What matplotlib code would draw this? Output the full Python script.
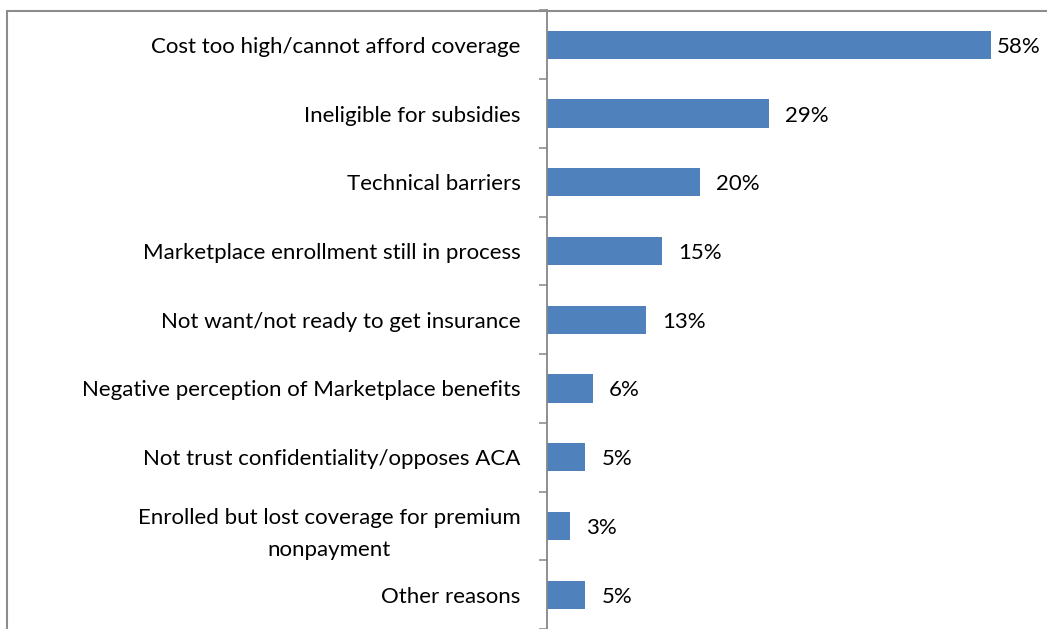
import matplotlib.pyplot as plt
from matplotlib.patches import Rectangle

# Reasons for remaining uninsured (share of respondents)
reasons = [
    "Cost too high/cannot afford coverage",
    "Ineligible for subsidies",
    "Technical barriers",
    "Marketplace enrollment still in process",
    "Not want/not ready to get insurance",
    "Negative perception of Marketplace benefits",
    "Not trust confidentiality/opposes ACA",
    "Enrolled but lost coverage for premium\nnonpayment",
    "Other reasons",
]
shares = [58, 29, 20, 15, 13, 6, 5, 3, 5]
share_labels = ["58%", "29%", "20%", "15%", "13%", "6%", "5%", "3%", "5%"]

plt.rcParams["font.family"] = ["Lato", "DejaVu Sans"]

W, H = 1047, 629
fig = plt.figure(figsize=(W / 100, H / 100), dpi=100)

# outer chart frame (runs past the right and bottom edges)
fig.patches.append(Rectangle((7 / W, -0.1), 1.2, 1.1 - 11 / H,
                             transform=fig.transFigure, fill=False,
                             edgecolor="#8c8c8c", linewidth=1.5))

ax = fig.add_axes([547 / W, 0.0, 535.5 / W, 618.5 / H])

n = len(reasons)
pos = list(range(n))
ax.barh(pos, shares, height=0.41, color="#4F81BD", zorder=2)

ax.set_xlim(0, 70)
ax.set_ylim(n - 0.5, -0.5)

for p, v, lab in zip(pos, shares, share_labels):
    # keep the label inside the chart area
    x = min(v + 2.1, 58.8)
    ax.text(x, p, lab, va="center_baseline", ha="left", fontsize=16,
            color="black")

# category borders as ticks, names at the centers
ax.set_yticks([i - 0.5 for i in range(n + 1)])
ax.set_yticklabels([])
ax.set_yticks(pos, minor=True)
ax.set_yticklabels(reasons, minor=True, fontsize=16, multialignment="center",
                   linespacing=1.75)
ax.tick_params(axis="y", which="major", direction="out", length=6,
               width=1.1, color="#868686")
ax.tick_params(axis="y", which="minor", length=0, pad=19)
ax.set_xticks([])

for s in ["top", "right", "bottom"]:
    ax.spines[s].set_visible(False)
ax.spines["left"].set_color("#868686")
ax.spines["left"].set_linewidth(1.3)

fig.savefig("out.png", dpi=100)
